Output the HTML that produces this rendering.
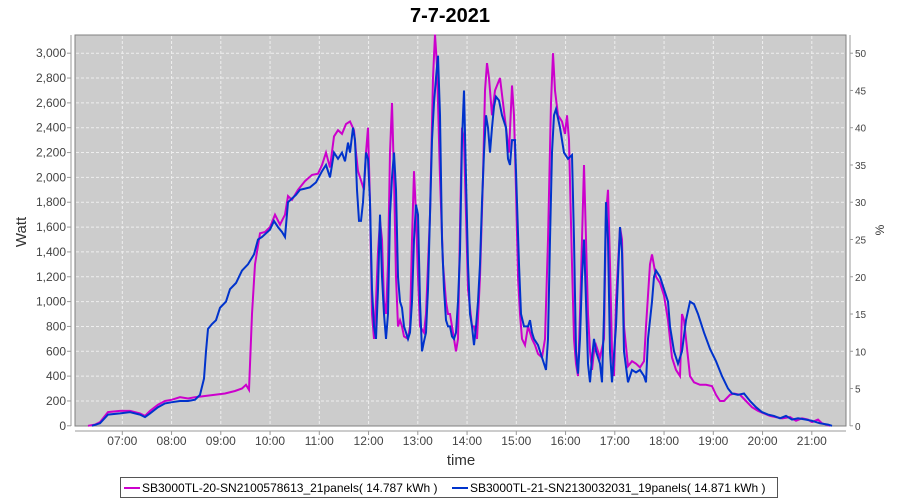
<!DOCTYPE html>
<html><head><meta charset="utf-8"><style>
body{margin:0;background:#fff;}
svg{font-family:"Liberation Sans",sans-serif;display:block}
</style></head><body>
<svg id="s" width="900" height="500" xmlns="http://www.w3.org/2000/svg">
<text x="450" y="22" text-anchor="middle" font-size="20" font-weight="bold" fill="#000">7-7-2021</text>
<rect x="75" y="35" width="771" height="391" fill="#cccccc" stroke="#808080"/>
<g id="grid" stroke="#eeeeee" stroke-dasharray="3,2" stroke-width="1"></g>
<g id="lab" font-size="12" fill="#444"></g>
<line x1="71" y1="35" x2="71" y2="426" stroke="#999"/>
<line x1="75" y1="431" x2="846" y2="431" stroke="#999"/>
<line x1="850" y1="35" x2="850" y2="426" stroke="#999"/>
<text x="26" y="232" font-size="15" fill="#333" transform="rotate(-90 26 232)" text-anchor="middle">Watt</text>
<text x="884" y="230" font-size="12" fill="#333" transform="rotate(-90 884 230)" text-anchor="middle">%</text>
<text x="461" y="465" font-size="15" fill="#333" text-anchor="middle">time</text>
<polyline id="pm" fill="none" stroke="#cc00cc" stroke-width="2"/>
<polyline id="pb" fill="none" stroke="#0033cc" stroke-width="2"/>
<rect x="120.5" y="477.5" width="657" height="20" fill="#fff" stroke="#555"/>
<line x1="124" y1="488" x2="140" y2="488" stroke="#cc00cc" stroke-width="2"/>
<text x="142" y="492" font-size="12" fill="#000">SB3000TL-20-SN2100578613_21panels( 14.787 kWh  )</text>
<line x1="452" y1="488" x2="468" y2="488" stroke="#0033cc" stroke-width="2"/>
<text x="470" y="492" font-size="12" fill="#000">SB3000TL-21-SN2130032031_19panels( 14.871 kWh  )</text>
</svg>
<script>
var NS="http://www.w3.org/2000/svg";
function Y(w){return 425.8-w*0.1242;}
var g=document.getElementById('grid'),lab=document.getElementById('lab');
function el(t,a,p,txt){var e=document.createElementNS(NS,t);for(var k in a)e.setAttribute(k,a[k]);if(txt!==undefined)e.textContent=txt;p.appendChild(e);return e;}
for(var w=0;w<=3000;w+=200){var y=Y(w);if(w>0)el('line',{x1:76,x2:845,y1:y,y2:y},g);
el('text',{x:66,y:y+4,'text-anchor':'end'},lab,w.toLocaleString('en-US'));
el('line',{x1:67,x2:71,y1:y,y2:y,stroke:'#999'},lab);}
for(var p=0;p<=50;p+=5){var y=Y(p*60);el('text',{x:855,y:y+4,'font-size':10},lab,String(p));el('line',{x1:850,x2:853,y1:y,y2:y,stroke:'#999'},lab);}
for(var h=7;h<=21;h++){var x=122.3+(h-7)*49.25;el('line',{x1:x,x2:x,y1:36,y2:425},g);
el('text',{x:x,y:445,'text-anchor':'middle'},lab,(h<10?'0':'')+h+':00');el('line',{x1:x,x2:x,y1:431,y2:435,stroke:'#999'},lab);}
var M=[88,0,95,10,100,30,108,110,120,120,130,120,140,100,145,80,150,120,158,170,165,200,172,210,180,230,188,220,195,230,205,240,215,250,225,260,235,280,242,300,246,330,249,290,252,900,255,1300,260,1550,265,1560,270,1600,275,1700,280,1620,285,1700,288,1850,292,1820,298,1900,305,1970,312,2020,318,2030,322,2100,326,2200,330,2080,334,2330,338,2380,342,2350,346,2430,350,2450,354,2380,356,2200,358,2050,362,1950,364,1900,366,2200,368,2400,370,1800,372,900,374,700,376,1000,378,1400,380,1650,382,1500,384,1000,386,900,388,1300,390,2200,392,2600,394,2000,396,1200,398,800,400,850,402,800,404,720,408,700,410,800,412,1500,414,2050,416,1700,418,1200,420,800,424,750,426,900,430,1700,433,2800,435,3150,437,2900,440,2000,443,1300,446,1000,448,900,450,900,454,700,456,600,458,700,460,1600,462,2400,464,2300,466,1700,468,1100,472,800,474,800,477,700,480,1200,483,2000,485,2700,487,2920,489,2800,492,2500,495,2700,500,2800,503,2600,506,2400,509,2200,512,2740,514,2500,516,1900,518,1200,520,900,522,700,525,650,528,800,530,750,532,700,535,650,538,580,542,550,545,700,548,1500,551,2600,553,3000,555,2700,558,2500,562,2450,565,2350,567,2500,569,2300,572,1300,574,700,576,500,578,400,580,900,582,1500,584,2100,586,1500,588,900,590,600,592,450,594,600,596,650,598,600,600,550,604,700,606,1700,608,1900,610,1300,612,600,614,400,616,1000,620,1600,622,1500,624,800,628,480,632,520,636,500,640,470,644,520,646,800,650,1300,652,1380,656,1200,660,1150,664,1050,668,850,672,550,676,450,680,400,682,900,684,850,686,700,690,400,694,350,700,330,706,330,712,320,716,250,720,200,724,200,730,250,734,260,740,250,746,200,752,150,758,120,764,100,770,80,776,70,782,60,790,70,796,40,802,60,808,50,812,30,818,50,822,20,830,0];
var B=[92,0,100,20,108,90,120,100,130,110,140,90,145,70,150,100,158,150,165,180,172,190,180,200,188,200,195,210,200,250,204,380,206,600,208,780,212,820,216,850,220,950,226,1000,230,1100,236,1150,242,1250,248,1300,254,1380,258,1500,262,1520,266,1550,270,1580,274,1650,278,1600,282,1560,285,1520,288,1800,292,1830,296,1860,300,1900,305,1910,310,1920,316,1960,322,2050,326,2100,330,2000,334,2200,338,2150,342,2200,345,2130,348,2280,350,2200,353,2400,355,2300,357,1900,359,1650,361,1650,363,1800,366,2200,368,2150,370,1800,372,1100,374,800,376,700,378,1100,380,1700,382,1200,384,900,386,700,388,900,390,1700,392,2000,394,2200,396,1900,398,1200,400,1000,402,950,404,800,406,750,408,700,410,750,412,1000,414,1500,416,1780,418,1700,420,1000,422,600,424,680,426,750,428,1100,430,1700,432,2300,434,2600,436,2800,438,2980,440,2500,442,1500,444,1100,446,850,448,800,450,800,452,720,454,700,456,750,458,1000,460,1400,462,2300,464,2700,466,2000,468,1300,470,900,472,800,474,650,476,800,478,1000,480,1300,482,1800,484,2200,486,2500,488,2400,490,2200,492,2400,494,2570,496,2650,499,2620,502,2500,506,2400,508,2150,510,2100,512,2300,515,2300,517,1800,519,1300,521,900,524,800,528,800,530,850,532,750,534,700,538,650,542,550,546,450,548,700,550,1500,552,2200,554,2500,556,2550,560,2400,564,2200,568,2150,572,2180,574,1500,576,600,578,420,580,700,582,1200,584,1500,586,1000,588,500,590,350,592,550,594,700,596,600,598,550,600,500,602,350,604,900,606,1800,608,1500,610,600,612,350,616,800,620,1600,622,1400,624,600,628,350,632,450,636,430,640,450,644,400,646,350,648,700,652,1000,654,1200,656,1250,660,1200,664,1100,668,1000,670,800,674,600,678,500,682,600,686,850,690,1000,694,980,698,900,704,750,710,620,716,520,722,400,728,300,732,260,738,250,744,260,750,200,756,150,762,110,768,90,774,80,780,60,786,80,792,50,798,60,806,50,812,40,820,20,828,10,832,0];
function pts(a){var s=[];for(var i=0;i<a.length;i+=2)s.push(a[i]+','+Y(a[i+1]).toFixed(1));return s.join(' ');}
document.getElementById('pm').setAttribute('points',pts(M));
document.getElementById('pb').setAttribute('points',pts(B));
</script>
</body></html>
